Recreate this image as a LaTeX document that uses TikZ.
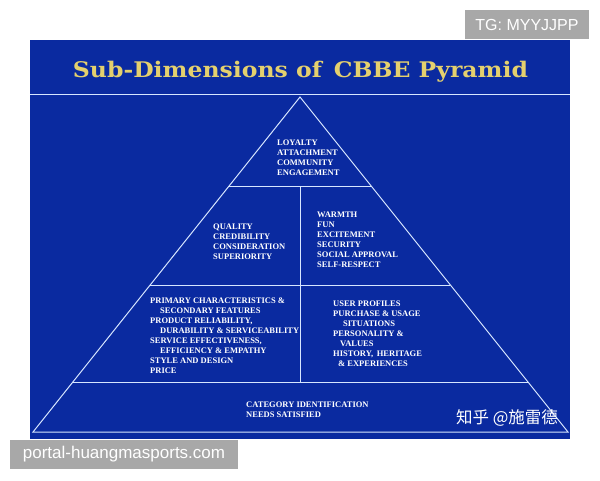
\documentclass[tikz,border=0pt]{standalone}
\usepackage{fontspec}
\usepackage{graphicx}
\setmainfont{Liberation Serif}
\newfontfamily\sansfnt{Liberation Sans}
\newfontfamily\titlefnt{DejaVu Serif}
\newfontfamily\cjkfnt{Noto Sans CJK SC}
\usetikzlibrary{calc}
\definecolor{slideblue}{RGB}{10,42,160}
\definecolor{titleyellow}{RGB}{228,208,110}
\definecolor{lineblue}{RGB}{215,230,255}
\definecolor{markgray}{RGB}{168,168,168}
\tikzset{
  txt/.style={text=white, font=\bfseries\fontsize{8.5}{10}\selectfont, inner sep=0pt, anchor=base west},
  pyrline/.style={draw=lineblue, line width=1pt},
  markbox/.style={fill=markgray, draw=none},
}
\begin{document}
\begin{tikzpicture}[x=1pt,y=-1pt]
\useasboundingbox (0,0) rectangle (600,480);
\fill[white] (0,0) rectangle (600,480);
% slide background
\fill[slideblue] (30,40) rectangle (570,439);
\node[text=titleyellow, inner sep=0pt, anchor=base] (title) at (300.5,77.5)
  {\resizebox{455pt}{\height}{\titlefnt\bfseries\fontsize{21.5}{24}\selectfont Sub-Dimensions of\, CBBE Pyramid}};
\coordinate (tl) at (30,94);
\coordinate (tr) at (570,94);
\draw[pyrline] (tl) -- (tr);
% pyramid
\coordinate (A) at (300,97);
\coordinate (BL) at (33,432);
\coordinate (BR) at (568,432);
\draw[pyrline, line join=miter] (A) -- (BL) -- (BR) -- cycle;
\coordinate (L1) at ($(A)!0.2657!(BL)$);
\coordinate (R1) at ($(A)!0.2657!(BR)$);
\coordinate (L2) at ($(A)!0.5612!(BL)$);
\coordinate (R2) at ($(A)!0.5612!(BR)$);
\coordinate (L3) at ($(A)!0.8537!(BL)$);
\coordinate (R3) at ($(A)!0.8537!(BR)$);
\coordinate (V1) at (300,186);
\coordinate (V3) at (300,383);
\draw[pyrline] (L1) -- (R1);
\draw[pyrline] (L2) -- (R2);
\draw[pyrline] (L3) -- (R3);
\draw[pyrline] (V1) -- (V3);
% top tier
\node[txt] (t1) at (277,145) {LOYALTY};
\node[txt] (t2) at (277,155) {ATTACHMENT};
\node[txt] (t3) at (277,165) {COMMUNITY};
\node[txt] (t4) at (277,175) {ENGAGEMENT};
% second tier left
\node[txt] (j1) at (213,229) {QUALITY};
\node[txt] (j2) at (213,239) {CREDIBILITY};
\node[txt] (j3) at (213,249) {CONSIDERATION};
\node[txt] (j4) at (213,259) {SUPERIORITY};
% second tier right
\node[txt] (f1) at (317,217) {WARMTH};
\node[txt] (f2) at (317,227) {FUN};
\node[txt] (f3) at (317,237) {EXCITEMENT};
\node[txt] (f4) at (317,247) {SECURITY};
\node[txt] (f5) at (317,257) {SOCIAL APPROVAL};
\node[txt] (f6) at (317,267) {SELF-RESPECT};
% third tier left
\node[txt] (p1) at (150,303) {PRIMARY CHARACTERISTICS \&};
\node[txt] (p2) at (160,313) {SECONDARY FEATURES};
\node[txt] (p3) at (150,323) {PRODUCT RELIABILITY,};
\node[txt] (p4) at (160,333) {DURABILITY \& SERVICEABILITY};
\node[txt] (p5) at (150,343) {SERVICE EFFECTIVENESS,};
\node[txt] (p6) at (160,353) {EFFICIENCY \& EMPATHY};
\node[txt] (p7) at (150,363) {STYLE AND DESIGN};
\node[txt] (p8) at (150,373) {PRICE};
% third tier right
\node[txt] (i1) at (333,306) {USER PROFILES};
\node[txt] (i2) at (333,316) {PURCHASE \& USAGE};
\node[txt] (i3) at (343,326) {SITUATIONS};
\node[txt] (i4) at (333,336) {PERSONALITY \&};
\node[txt] (i5) at (340,346) {VALUES};
\node[txt] (i6) at (333,356) {HISTORY,\, HERITAGE};
\node[txt] (i7) at (338,366) {\& EXPERIENCES};
% bottom tier
\node[txt] (s1) at (246,407) {CATEGORY IDENTIFICATION};
\node[txt] (s2) at (246,417) {NEEDS SATISFIED};
% watermarks
\node[text=white, inner sep=0pt, font=\cjkfnt\fontsize{16.5}{18}\selectfont] (zh) at (507,417.5) {知乎 @施雷德};
\fill[markgray] (465,10) rectangle (589,39);
\node[text=white, inner sep=0pt, font=\sansfnt\fontsize{16}{18}\selectfont] (tg) at (527,24.5) {TG: MYYJJPP};
\fill[markgray] (10,440) rectangle (238,469);
\node[text=white, inner sep=0pt, font=\sansfnt\fontsize{17}{19}\selectfont] (portal) at (124,454.5) {portal-huangmasports.com};
\end{tikzpicture}
\end{document}
